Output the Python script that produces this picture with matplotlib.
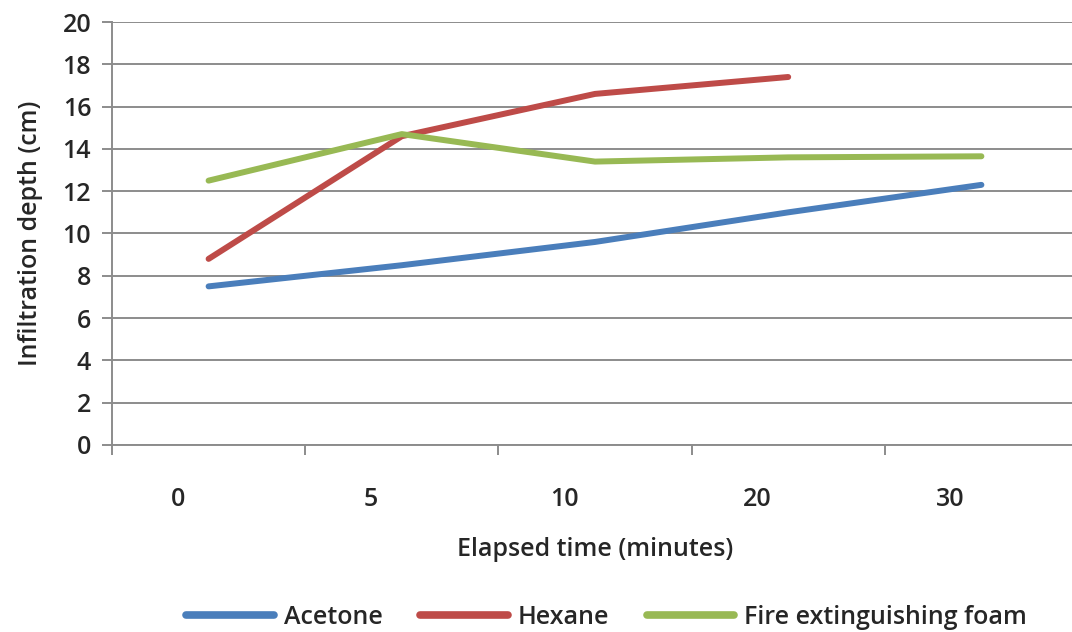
import numpy as np
import matplotlib.pyplot as plt

plt.rcParams['font.family'] = ['Open Sans', 'DejaVu Sans']
plt.rcParams['font.weight'] = 'semibold'
plt.rcParams['axes.labelweight'] = 'semibold'

# elapsed time categories and measured infiltration depth (cm)
tijden = ["0", "5", "10", "20", "30"]
aceton = [7.5, 8.5, 9.6, 11.0, 12.3]
hexaan = [8.8, 14.6, 16.6, 17.4]
schuim = [12.5, 14.7, 13.4, 13.6, 13.65]

kleuren = {"Acetone": "#4A7EBB", "Hexane": "#BE4B48", "Fire extinguishing foam": "#98B954"}
grijs = "#8C8C8C"
tekst = "#262626"
fs = 18

fig = plt.figure(figsize=(10.72, 6.32), dpi=100)
ax = fig.add_axes([112/1072, 1 - 445/632, (1078 - 112)/1072, (445 - 22)/632])

x = np.arange(len(tijden))
ax.plot(x, aceton, color=kleuren["Acetone"], lw=4.3, solid_capstyle='round', label="Acetone")
ax.plot(x[:len(hexaan)], hexaan, color=kleuren["Hexane"], lw=4.3, solid_capstyle='round', label="Hexane")
ax.plot(x, schuim, color=kleuren["Fire extinguishing foam"], lw=4.3, solid_capstyle='round',
        label="Fire extinguishing foam")

ax.set_xlim(-0.5, len(tijden) - 0.5)
ax.set_ylim(0, 20)
ax.set_yticks(np.arange(0, 21, 2))
ax.grid(axis='y', color=grijs, lw=1.4)
ax.set_axisbelow(True)

# category boundaries get the tick marks, the labels sit slightly left of the centres
ax.set_xticks(np.arange(-0.5, len(tijden)))
ax.set_xticklabels([])
ax.set_xticks(x - 0.16, minor=True)
ax.set_xticklabels(tijden, minor=True)
ax.tick_params(axis='x', which='major', length=7, width=1.4, color=grijs, direction='out')
ax.tick_params(axis='x', which='minor', length=0, pad=30, labelsize=fs, labelcolor=tekst)
ax.tick_params(axis='y', length=7, width=1.4, color=grijs, labelsize=fs, pad=8, labelcolor=tekst)

for s in ['top', 'right']:
    ax.spines[s].set_visible(False)
for s in ['left', 'bottom']:
    ax.spines[s].set_color(grijs)
    ax.spines[s].set_linewidth(1.4)

ax.set_ylabel("Infiltration depth (cm)", fontsize=fs, labelpad=14, color=tekst)
ax.set_xlabel("Elapsed time (minutes)", fontsize=fs, labelpad=18, color=tekst)

leg = fig.legend(loc='center', bbox_to_anchor=(0.566, 1 - 617/632), ncol=3, frameon=False,
                 fontsize=fs, handlelength=3.5, handletextpad=0.4, columnspacing=1.5,
                 labelcolor=tekst)
for lijn in leg.get_lines():
    lijn.set_linewidth(5.5)

fig.savefig("out.png", dpi=100)
